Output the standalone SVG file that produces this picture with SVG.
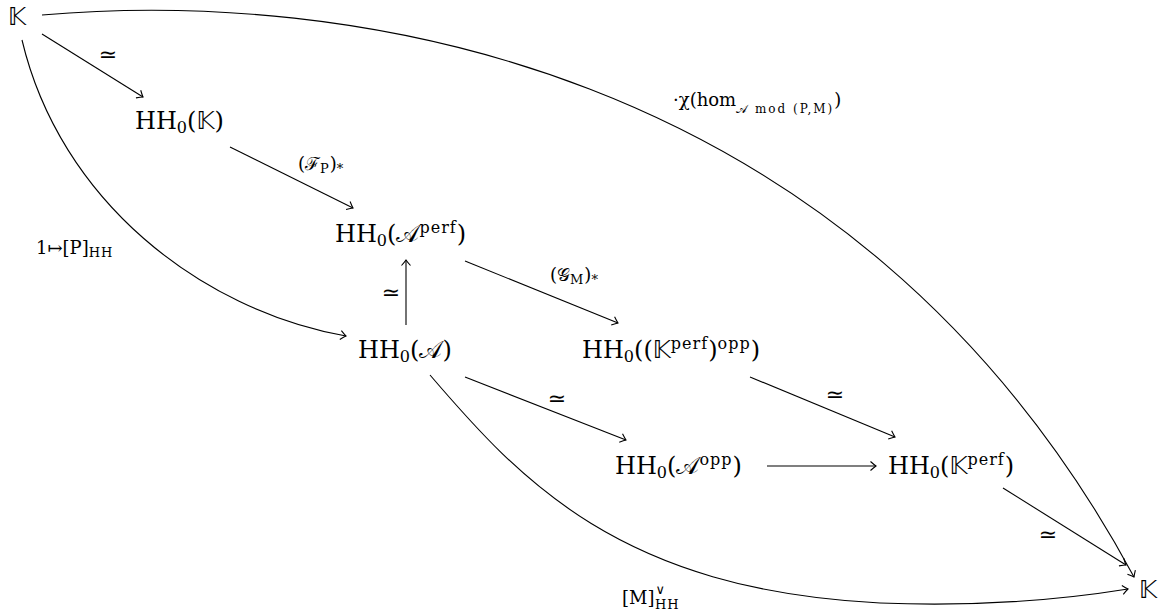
<svg xmlns="http://www.w3.org/2000/svg" width="1168" height="614" viewBox="0 0 1168 614">
<style>
.n{font-family:"DejaVu Serif","Liberation Serif",serif;font-size:24px;fill:#000}
.l{font-family:"DejaVu Serif","Liberation Serif",serif;font-size:18px;fill:#000}
.s{font-size:13px;letter-spacing:1px}
.sp{font-size:16px;letter-spacing:1px}
.eq{font-family:"DejaVu Sans",sans-serif;font-size:22px;fill:#000}
.bb{font-family:"DejaVu Sans",sans-serif}
.e{fill:none;stroke:#000;stroke-width:1.1;marker-end:url(#ah)}
</style>
<defs>
<marker id="ah" viewBox="-7 -6 9 12" markerWidth="9" markerHeight="12" refX="0" refY="0" orient="auto" markerUnits="userSpaceOnUse">
<path d="M-5.5,-4.5 Q-1.8,-1.2 0,0 Q-1.8,1.2 -5.5,4.5" fill="none" stroke="#000" stroke-width="1.1"/>
</marker>
</defs>
<g id="connectors">
<path class="e" d="M42,34 L143,97"/>
<path class="e" d="M230,147 L353,208"/>
<path class="e" d="M406,325 L406,260"/>
<path class="e" d="M465,261 L618,323"/>
<path class="e" d="M465,377 L626,440"/>
<path class="e" d="M750,377 L895,437"/>
<path class="e" d="M767,466 L876,466"/>
<path class="e" d="M1003,488 L1126,565"/>
<path class="e" d="M42,15 C330,-10 850,50 1134,577"/>
<path class="e" d="M22,40 C60,200 200,310 346,336"/>
<path class="e" d="M430,375 C520,480 620,590 880,603 C980,607 1060,600 1128,589"/>
</g>
<g id="labels">
<text class="eq" x="108" y="62" text-anchor="middle">≃</text>
<text class="l" x="298" y="170">(ℱ<tspan class="s" dy="3">P</tspan><tspan dy="-3">)</tspan><tspan class="s" dy="3">*</tspan></text>
<text class="eq" x="391" y="300" text-anchor="middle">≃</text>
<text class="l" x="550" y="281">(𝒢<tspan class="s" dy="3">M</tspan><tspan dy="-3">)</tspan><tspan class="s" dy="3">*</tspan></text>
<text class="eq" x="557" y="406" text-anchor="middle">≃</text>
<text class="eq" x="835" y="402" text-anchor="middle">≃</text>
<text class="eq" x="1048" y="542" text-anchor="middle">≃</text>
<text class="l" x="36" y="254">1↦[P]<tspan class="s" dy="3" letter-spacing="2">HH</tspan></text>
<text class="l" x="673" y="106">·χ(hom<tspan font-size="12" letter-spacing="2" dy="7">𝒜 mod (P,M)</tspan><tspan dy="-7">)</tspan></text>
<text class="l" x="622" y="604">[M]<tspan class="s" dx="1" dy="-10">∨</tspan><tspan class="s" dx="-11" dy="15">HH</tspan></text>
</g>
<g id="node-K1"><text class="n" x="8" y="25"><tspan class="bb">𝕂</tspan></text></g>
<g id="node-HH0K"><text class="n" x="135" y="129">HH<tspan font-size="16" dy="4">0</tspan><tspan dy="-4">(</tspan><tspan class="bb">𝕂</tspan>)</text></g>
<g id="node-HH0Aperf"><text class="n" x="335" y="242">HH<tspan font-size="16" dy="4">0</tspan><tspan dy="-4">(𝒜</tspan><tspan class="sp" dy="-9">perf</tspan><tspan dy="9">)</tspan></text></g>
<g id="node-HH0A"><text class="n" x="358" y="358">HH<tspan font-size="16" dy="4">0</tspan><tspan dy="-4">(𝒜)</tspan></text></g>
<g id="node-HH0Kperfopp"><text class="n" x="582" y="358">HH<tspan font-size="16" dy="4">0</tspan><tspan dy="-4">((</tspan><tspan class="bb">𝕂</tspan><tspan class="sp" dy="-9">perf</tspan><tspan dy="9">)</tspan><tspan class="sp" dy="-9">opp</tspan><tspan dy="9">)</tspan></text></g>
<g id="node-HH0Aopp"><text class="n" x="615" y="474">HH<tspan font-size="16" dy="4">0</tspan><tspan dy="-4">(𝒜</tspan><tspan class="sp" dy="-9">opp</tspan><tspan dy="9">)</tspan></text></g>
<g id="node-HH0Kperf"><text class="n" x="888" y="474">HH<tspan font-size="16" dy="4">0</tspan><tspan dy="-4">(</tspan><tspan class="bb">𝕂</tspan><tspan class="sp" dy="-9">perf</tspan><tspan dy="9">)</tspan></text></g>
<g id="node-K2"><text class="n" x="1139" y="598"><tspan class="bb">𝕂</tspan></text></g>
</svg>
